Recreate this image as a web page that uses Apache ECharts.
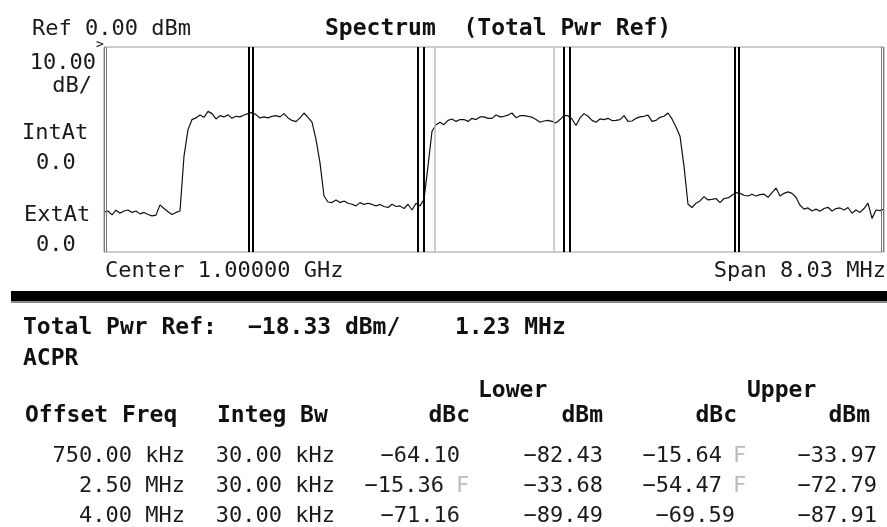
<!DOCTYPE html>
<html>
<head>
<meta charset="utf-8">
<script src="https://cdn.jsdelivr.net/npm/echarts@6/dist/echarts.min.js"></script>
<style>
  html, body { margin: 0; padding: 0; background: #fff; }
  #chart { width: 887px; height: 527px; }
</style>
</head>
<body>
<div id="chart"></div>
<script>
// sweep: center 1 GHz, span 8.03 MHz, offsets in MHz
const spanMHz = 8.03
const refLevel = 0
const dbPerDiv = 10

// trace levels (dBm) left to right
const traceLevels = [
  -80.4, -80.0, -81.9, -79.6, -81.1, -80.0, -79.5, -80.7, -80.0, -81.4,
  -80.7, -81.7, -82.4, -82.0, -77.0, -78.8, -80.4, -81.7, -80.7, -80.0,
  -53.2, -40.3, -35.4,
  -34.6, -33.2, -34.3, -31.4, -32.5, -35.1, -33.5, -34.1, -33.0, -34.8,
  -33.8, -34.1, -33.2, -32.5, -31.9, -33.0, -34.6, -34.1, -34.6, -33.8,
  -33.5, -34.1, -32.5, -34.6,
  -35.8, -36.4, -34.6, -32.2, -34.3, -36.7, -45.1, -56.5,
  -72.7, -75.6, -75.9, -74.6, -75.9, -75.1, -76.2, -76.7, -77.5, -75.9,
  -76.8, -76.2, -76.8, -77.5, -76.8, -77.8, -78.3, -76.7, -77.8, -77.5,
  -78.8, -76.7, -79.5, -76.2, -77.5, -74.3,
  -58.1, -41.1, -37.9, -36.7, -37.9, -35.8, -35.1, -36.3, -35.4, -35.4,
  -36.3, -34.8, -35.4, -34.1, -34.1, -34.8,
  -34.8, -33.2, -34.1, -33.8, -33.2, -32.2, -34.5, -33.5, -33.5, -33.8,
  -34.3, -35.4, -36.7, -36.1, -35.8, -36.3, -37.0, -35.4, -33.5, -33.5,
  -35.1, -38.3, -34.6, -32.5, -33.8, -35.8, -36.7, -35.1, -35.4, -34.8,
  -35.9, -35.8, -35.4, -33.5, -36.3, -36.1, -34.8, -34.1, -33.8, -33.2,
  -36.3, -35.8, -34.3, -33.8, -32.2, -35.1, -39.0, -43.5,
  -58.1, -76.7, -78.3, -76.2, -75.1, -73.0, -74.6, -74.3, -73.9, -75.9,
  -73.9, -73.6, -72.3, -71.0, -71.4, -72.3, -72.7, -71.8, -72.7, -72.0,
  -71.8, -73.3, -71.0, -68.8, -72.7, -71.4, -70.7, -71.4, -73.3, -77.2,
  -79.1, -78.5, -80.0, -79.1, -80.1, -78.8, -78.2, -80.0, -78.8, -78.5,
  -79.5, -78.3, -81.1, -79.5, -80.7, -78.8, -76.2, -83.6, -79.5, -79.8,
  -79.1
]

// integration band edges (MHz offset) and main channel half width
const offsetCenters = [0.75, 2.5, 4.0]
const offsetHalfBw = [0.03, 0.017, 0.012]
const mainHalfBw = 0.615

// ACPR table
const offsetFreqs = ['750.00 kHz', '2.50 MHz', '4.00 MHz']
const integBws = ['30.00 kHz', '30.00 kHz', '30.00 kHz']
const lowerDbc = [-64.10, -15.36, -71.16]
const lowerDbm = [-82.43, -33.68, -89.49]
const upperDbc = [-15.64, -54.47, -69.59]
const upperDbm = [-33.97, -72.79, -87.91]
const lowerFail = [false, true, false]
const upperFail = [true, true, false]

const chart = echarts.init(document.getElementById('chart'))

const step = spanMHz / (traceLevels.length - 1)
const traceData = traceLevels.map((v, i) => [-spanMHz / 2 + i * step, v])

const MONO = '"DejaVu Sans Mono", monospace'
const thin = { fontFamily: MONO, fontSize: 22, fill: '#1a1a1a' }
const bold = { fontFamily: MONO, fontSize: 23, fontWeight: 'bold', fill: '#111' }

function txt(text, x, y, base, align) {
  return {
    type: 'text', x: x, y: y, silent: true,
    style: Object.assign({}, base, { text: text, align: align || 'left', verticalAlign: 'middle' })
  }
}
const fmt = v => v.toFixed(2).replace('-', '\u2212')

// marker lines
const marks = []
offsetCenters.forEach((c, i) => {
  const col = i === 2 ? '#777' : '#000'
  const w = i === 2 ? 1 : 2
  ;[-1, 1].forEach(side => {
    [-1, 1].forEach(e => {
      marks.push({ xAxis: side * c + e * offsetHalfBw[i], lineStyle: { color: col, width: w, type: 'solid' } })
    })
  })
})
marks.push({ xAxis: -mainHalfBw, lineStyle: { color: '#bbb', width: 1.5, type: 'solid' } })
marks.push({ xAxis: mainHalfBw, lineStyle: { color: '#bbb', width: 1.5, type: 'solid' } })

const graphics = [
  txt('Ref 0.00 dBm', 32, 29, thin),
  txt('Spectrum  (Total Pwr Ref)', 325, 29, bold),
  txt('>', 96, 45, { fontFamily: MONO, fontSize: 13, fill: '#111' }),
  txt('10.00', 96, 63, thin, 'right'),
  txt('dB/', 92, 86, thin, 'right'),
  txt('IntAt', 22, 133, thin),
  txt('0.0', 36, 163, thin),
  txt('ExtAt', 24, 215, thin),
  txt('0.0', 36, 245, thin),
  txt('Center 1.00000 GHz', 105, 271, thin),
  txt('Span 8.03 MHz', 886, 271, thin, 'right'),
  { type: 'rect', silent: true, shape: { x: 11, y: 291, width: 876, height: 10 }, style: { fill: '#000' } },
  { type: 'rect', silent: true, shape: { x: 11, y: 301, width: 876, height: 2 }, style: { fill: '#888' } },
  txt('Total Pwr Ref:', 23, 328, bold),
  txt('\u221218.33 dBm/', 248, 328, bold),
  txt('1.23 MHz', 455, 328, bold),
  txt('ACPR', 23, 359, bold),
  txt('Lower', 478, 391, bold),
  txt('Upper', 747, 391, bold),
  txt('Offset Freq', 25, 416, bold),
  txt('Integ Bw', 217, 416, bold),
  txt('dBc', 470, 416, bold, 'right'),
  txt('dBm', 603, 416, bold, 'right'),
  txt('dBc', 737, 416, bold, 'right'),
  txt('dBm', 870, 416, bold, 'right')
]

const rowY = [456, 486, 516]
const flag = { fontFamily: MONO, fontSize: 22, fill: '#bbb' }
offsetFreqs.forEach((f, i) => {
  const y = rowY[i]
  graphics.push(txt(f, 185, y, thin, 'right'))
  graphics.push(txt(integBws[i], 335, y, thin, 'right'))
  graphics.push(txt(fmt(lowerDbc[i]), lowerFail[i] ? 444 : 460, y, thin, 'right'))
  if (lowerFail[i]) graphics.push(txt('F', 456, y, flag))
  graphics.push(txt(fmt(lowerDbm[i]), 603, y, thin, 'right'))
  graphics.push(txt(fmt(upperDbc[i]), upperFail[i] ? 722 : 735, y, thin, 'right'))
  if (upperFail[i]) graphics.push(txt('F', 733, y, flag))
  graphics.push(txt(fmt(upperDbm[i]), 877, y, thin, 'right'))
})

chart.setOption({
  animation: false,
  backgroundColor: '#fff',
  grid: {
    show: true, left: 104, right: 3, top: 47, height: 205,
    borderColor: '#999', borderWidth: 1, backgroundColor: '#fff'
  },
  xAxis: {
    type: 'value', min: -spanMHz / 2, max: spanMHz / 2,
    axisLine: { show: false }, axisTick: { show: false },
    axisLabel: { show: false }, splitLine: { show: false }
  },
  yAxis: {
    type: 'value', min: refLevel - 10 * dbPerDiv, max: refLevel, interval: dbPerDiv,
    axisLine: { show: false }, axisTick: { show: false },
    axisLabel: { show: false }, splitLine: { show: false }
  },
  series: [{
    type: 'line',
    data: traceData,
    showSymbol: false,
    lineStyle: { color: '#111', width: 1.2 },
    markLine: {
      silent: true, symbol: 'none', label: { show: false },
      data: marks
    }
  }],
  graphic: graphics
})
</script>
</body>
</html>
